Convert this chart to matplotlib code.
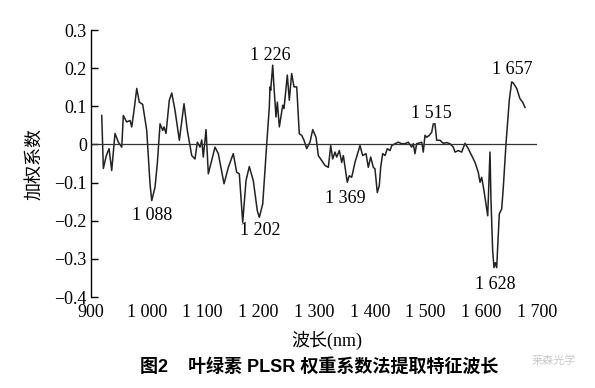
import numpy as np
import matplotlib.pyplot as plt

# PLSR weight coefficients (wavelength nm, coefficient)
wavelength = [919.2, 922.1, 926.9, 929.6, 932.3, 937.1, 943.0, 949.0, 955.1, 957.9,
              964.0, 970.0, 973.0, 977.1, 982.0, 986.6, 992.7, 999.9, 1005.8, 1008.9,
              1014.8, 1018.9, 1023.8, 1028.6, 1030.9, 1034.5, 1040.4, 1044.8, 1050.7, 1058.4,
              1066.8, 1072.7, 1080.6, 1086.5, 1090.7, 1095.5, 1098.6, 1101.4, 1106.3, 1110.4,
              1116.5, 1122.4, 1128.3, 1138.6, 1146.3, 1155.2, 1161.3, 1166.0, 1172.1, 1178.0,
              1183.9, 1191.1, 1198.3, 1201.9, 1208.0, 1215.2, 1219.8, 1221.1, 1222.3, 1225.9,
              1228.2, 1231.8, 1234.2, 1237.8, 1243.9, 1246.2, 1252.1, 1255.7, 1259.9, 1264.1,
              1269.0, 1273.6, 1277.9, 1282.1, 1286.9, 1292.8, 1297.7, 1303.6, 1307.7, 1319.7,
              1325.7, 1330.0, 1333.5, 1337.7, 1340.7, 1345.4, 1349.7, 1352.6, 1359.7, 1363.3,
              1367.6, 1373.5, 1382.5, 1387.3, 1393.3, 1397.4, 1401.7, 1406.4, 1409.4, 1413.5,
              1417.1, 1419.6, 1423.2, 1427.4, 1431.5, 1436.3, 1439.4, 1445.3, 1451.2, 1457.3,
              1463.2, 1469.1, 1475.2, 1478.1, 1481.1, 1484.2, 1493.2, 1496.0, 1499.1, 1502.1,
              1506.8, 1511.1, 1514.0, 1517.0, 1520.1, 1526.0, 1531.9, 1538.0, 1543.9, 1549.9,
              1552.9, 1558.8, 1564.9, 1570.9, 1576.8, 1582.9, 1588.8, 1594.7, 1597.8, 1600.8,
              1604.9, 1608.5, 1611.6, 1613.4, 1615.7, 1617.5, 1620.5, 1622.9, 1625.2, 1627.7,
              1630.0, 1632.4, 1636.7, 1639.6, 1644.4, 1650.3, 1654.6, 1657.5, 1663.6, 1669.5,
              1674.3, 1678.5]
coefficient = [0.076, -0.063, -0.032, -0.021, -0.011, -0.068, 0.029, 0.006, -0.007, 0.076,
               0.059, 0.063, 0.046, 0.089, 0.147, 0.111, 0.105, 0.037, -0.103, -0.147,
               -0.112, -0.050, 0.054, 0.037, 0.046, 0.029, 0.116, 0.135, 0.089, 0.011,
               0.107, 0.037, -0.029, -0.038, 0.006, -0.007, 0.012, -0.033, 0.039, -0.077,
               -0.042, -0.007, -0.024, -0.103, -0.060, -0.024, -0.073, -0.077, -0.204, -0.095,
               -0.058, -0.095, -0.174, -0.191, -0.156, 0.002, 0.098, 0.151, 0.142, 0.208,
               0.151, 0.072, 0.111, 0.046, 0.103, 0.094, 0.182, 0.116, 0.186, 0.151,
               0.151, 0.028, 0.024, 0.011, -0.011, 0.006, 0.039, 0.019, -0.029, -0.055,
               -0.060, -0.003, -0.038, -0.020, -0.033, -0.016, -0.047, -0.029, -0.099, -0.082,
               -0.086, -0.047, -0.003, -0.029, -0.024, -0.060, -0.033, -0.060, -0.064, -0.126,
               -0.108, -0.060, -0.024, -0.029, -0.011, -0.016, -0.003, 0.002, 0.006, 0.002,
               0.002, 0.006, -0.007, 0.002, -0.024, 0.002, 0.006, -0.020, 0.024, 0.019,
               0.024, 0.032, 0.054, 0.054, 0.011, 0.011, 0.003, 0.005, 0.002, -0.007,
               -0.020, -0.016, -0.020, 0.003, -0.011, -0.029, -0.047, -0.073, -0.099, -0.086,
               -0.121, -0.156, -0.187, -0.112, -0.020, -0.147, -0.279, -0.323, -0.310, -0.323,
               -0.253, -0.182, -0.169, -0.112, 0.002, 0.116, 0.164, 0.161, 0.147, 0.120,
               0.111, 0.097]

x_ticks = [900, 1000, 1100, 1200, 1300, 1400, 1500, 1600, 1700]
x_tick_labels = ['900', '1 000', '1 100', '1 200', '1 300', '1 400', '1 500', '1 600', '1 700']
y_ticks = [-0.4, -0.3, -0.2, -0.1, 0, 0.1, 0.2, 0.3]
y_tick_labels = ['\u22120.4', '\u22120.3', '\u22120.2', '\u22120.1', '0', '0.1', '0.2', '0.3']

# feature wavelength labels and where their text sits
peak_labels = ['1 088', '1 202', '1 226', '1 369', '1 515', '1 628', '1 657']
peak_text_x = [1009, 1203, 1221, 1357, 1510, 1626, 1655]
peak_text_y = [-0.187, -0.226, 0.234, -0.142, 0.082, -0.366, 0.197]

serif = ['Liberation Serif', 'Noto Sans CJK SC']
sans = ['Liberation Sans', 'Noto Sans CJK SC']

fig = plt.figure(figsize=(5.95, 3.88), dpi=100)
ax = fig.add_axes([0.153, 0.2345, 0.7495, 0.688])

ax.plot(wavelength, coefficient, color='#222222', lw=1.1)
ax.axhline(0, color='#333333', lw=0.9)

ax.set_xlim(900, 1700)
ax.set_ylim(-0.4, 0.3)

ax.set_xticks(x_ticks)
ax.set_xticklabels(x_tick_labels, family=serif, fontsize=13)
ax.set_yticks(y_ticks)
ax.set_yticklabels(y_tick_labels, family=serif, fontsize=13)
ax.tick_params(axis='x', length=0, pad=5)
ax.tick_params(axis='y', direction='in', length=5, width=1, pad=3)

for side in ['top', 'right', 'bottom']:
    ax.spines[side].set_visible(False)
ax.spines['left'].set_linewidth(1)

for label, tx, ty in zip(peak_labels, peak_text_x, peak_text_y):
    ax.text(tx, ty, label, ha='center', va='center', family=serif, fontsize=13)

ax.set_ylabel('加权系数', family=serif, fontsize=13, labelpad=8)
fig.text(0.55, 0.122, '波长(nm)', ha='center', va='center', family=serif, fontsize=13)
fig.text(0.536, 0.054, '图2    叶绿素 PLSR 权重系数法提取特征波长', ha='center', va='center',
         family=sans, fontsize=13, fontweight='bold')
fig.text(0.93, 0.07, '莱森光学', ha='center', va='center', family=sans,
         fontsize=8, color='#bbbbbb', alpha=0.8)

fig.savefig('out.png', dpi=100)
